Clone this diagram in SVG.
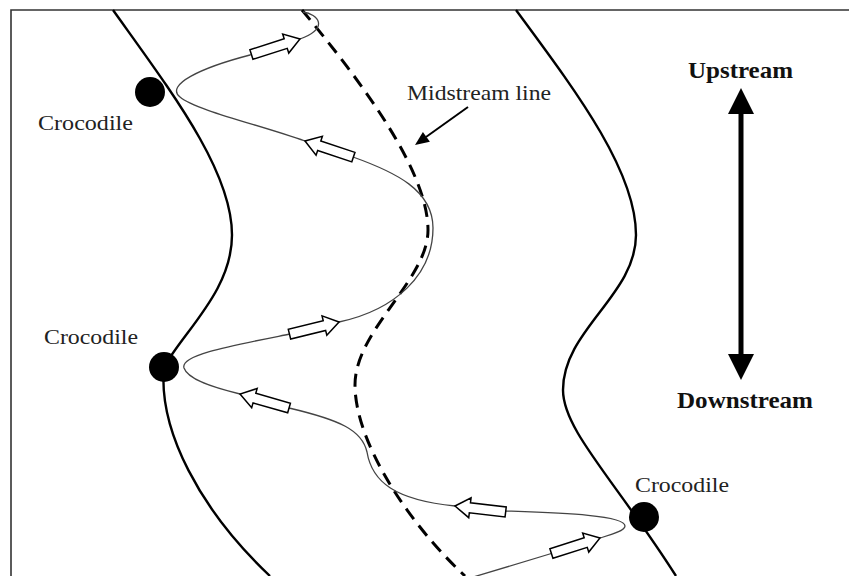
<svg xmlns="http://www.w3.org/2000/svg" width="849" height="576" viewBox="0 0 849 576">
<style>
.bank{fill:none;stroke:#000;stroke-width:2.4}
.mid{fill:none;stroke:#000;stroke-width:3;stroke-dasharray:13 8}
.fish{fill:none;stroke:#444;stroke-width:1.3}
.barrow{fill:#fff;stroke:#000;stroke-width:1.5;stroke-linejoin:miter}
.croc{fill:#000}
.lbl{font-family:"Liberation Serif",serif;font-size:22px;fill:#222}
.bold{font-family:"Liberation Serif",serif;font-size:24px;font-weight:bold;fill:#111}
</style>
<defs>
<path id="blk" d="M0,0 L-15,-10 L-15,-5 L-51,-5 L-51,5 L-15,5 L-15,10 Z"/>
</defs>
<rect x="0" y="0" width="849" height="576" fill="#fff"/>
<path d="M11,576 L11,10 L849,10" fill="none" stroke="#333" stroke-width="1.6"/>
<g id="banks">
<path class="bank" d="M113,10 C170,90 232,170 232,235 C232,290 185,330 164,367 C158,430 200,510 270,576"/>
<path class="bank" d="M516,10 C575,90 636,170 636,235 C636,295 563,330 563,390 C563,430 615,480 676,576"/>
</g>
<g id="midstream">
<path class="mid" d="M302,10 C360,80 428,170 428,230 C428,280 355,330 355,385 C355,440 405,520 465,576"/>
</g>
<g id="connectors">
<path class="fish" d="M303,12 C318,14 330,28 300,39 L250,55 C200,68 165,85 180,97 C195,110 260,125 305,141 L353,157 C395,172 433,190 433,228 C433,275 395,310 339,322 L290,334 C230,346 180,355 184,368 C188,380 215,388 240,394 L289,408 C340,420 362,430 367,452 C372,482 395,500 455,506 L506,511 C560,513 625,515 625,526 C625,531 610,535 600,538 L553,553 L470,578"/>
<use href="#blk" class="barrow" transform="translate(300,39) rotate(-17.7)"/>
<use href="#blk" class="barrow" transform="translate(305,141) rotate(198.4)"/>
<use href="#blk" class="barrow" transform="translate(339,322) rotate(-13.8)"/>
<use href="#blk" class="barrow" transform="translate(240,394) rotate(195.9)"/>
<use href="#blk" class="barrow" transform="translate(455,506) rotate(186.7)"/>
<use href="#blk" class="barrow" transform="translate(600,538) rotate(-17.7)"/>
<line x1="468" y1="107" x2="426" y2="137" stroke="#000" stroke-width="2"/>
<polygon points="415,145 429.9,141.7 422.9,131.9" fill="#000"/>
<line x1="741" y1="110" x2="741" y2="358" stroke="#000" stroke-width="5"/>
<polygon points="741,88 728,114 754,114" fill="#000"/>
<polygon points="741,380 728,354 754,354" fill="#000"/>
</g>
<g id="croc1">
<circle class="croc" cx="150" cy="92" r="15"/>
<text class="lbl" x="38" y="130" textLength="95" lengthAdjust="spacingAndGlyphs">Crocodile</text>
</g>
<g id="croc2">
<circle class="croc" cx="164" cy="367" r="15"/>
<text class="lbl" x="44" y="344" textLength="94" lengthAdjust="spacingAndGlyphs">Crocodile</text>
</g>
<g id="croc3">
<circle class="croc" cx="644" cy="517" r="15"/>
<text class="lbl" x="635" y="492" textLength="94" lengthAdjust="spacingAndGlyphs">Crocodile</text>
</g>
<g id="midlabel">
<text class="lbl" x="407" y="100" textLength="144" lengthAdjust="spacingAndGlyphs">Midstream line</text>
</g>
<g id="upstream">
<text class="bold" x="688" y="78" textLength="105" lengthAdjust="spacingAndGlyphs">Upstream</text>
</g>
<g id="downstream">
<text class="bold" x="677" y="408" textLength="136" lengthAdjust="spacingAndGlyphs">Downstream</text>
</g>
</svg>
